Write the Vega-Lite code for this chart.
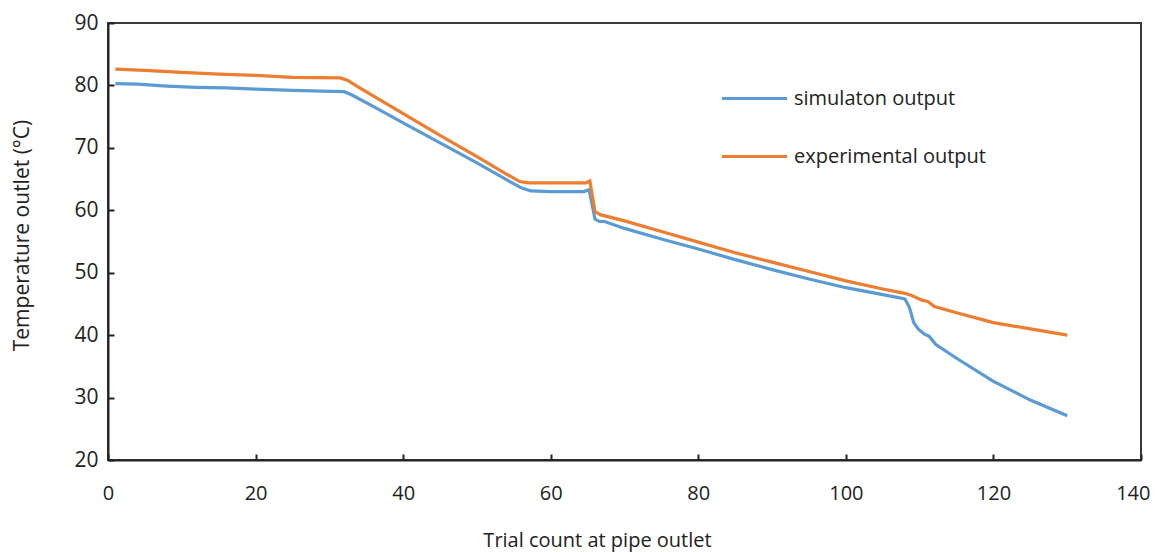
{
  "$schema": "https://vega.github.io/schema/vega-lite/v6.json",
  "width": 1033,
  "height": 437,
  "autosize": {"type": "none"},
  "padding": {"left": 108, "top": 23, "right": 16, "bottom": 92},
  "background": "white",
  "config": {
    "font": "Open Sans",
    "view": {"stroke": "#3a3a3a", "strokeWidth": 2}
  },
  "data": {
    "values": [
      {"x": 1, "y": 80.3, "series": "simulaton output"},
      {"x": 4, "y": 80.2, "series": "simulaton output"},
      {"x": 8, "y": 79.9, "series": "simulaton output"},
      {"x": 12, "y": 79.7, "series": "simulaton output"},
      {"x": 16, "y": 79.6, "series": "simulaton output"},
      {"x": 20, "y": 79.4, "series": "simulaton output"},
      {"x": 25, "y": 79.2, "series": "simulaton output"},
      {"x": 29, "y": 79.1, "series": "simulaton output"},
      {"x": 32, "y": 79.0, "series": "simulaton output"},
      {"x": 33, "y": 78.5, "series": "simulaton output"},
      {"x": 36, "y": 76.6, "series": "simulaton output"},
      {"x": 40, "y": 74.0, "series": "simulaton output"},
      {"x": 45, "y": 70.8, "series": "simulaton output"},
      {"x": 50, "y": 67.6, "series": "simulaton output"},
      {"x": 54, "y": 64.9, "series": "simulaton output"},
      {"x": 56, "y": 63.6, "series": "simulaton output"},
      {"x": 57.3, "y": 63.1, "series": "simulaton output"},
      {"x": 60, "y": 63.0, "series": "simulaton output"},
      {"x": 64.5, "y": 63.0, "series": "simulaton output"},
      {"x": 65.2, "y": 63.3, "series": "simulaton output"},
      {"x": 66, "y": 58.6, "series": "simulaton output"},
      {"x": 66.6, "y": 58.2, "series": "simulaton output"},
      {"x": 67.3, "y": 58.2, "series": "simulaton output"},
      {"x": 70, "y": 57.1, "series": "simulaton output"},
      {"x": 75, "y": 55.4, "series": "simulaton output"},
      {"x": 80, "y": 53.8, "series": "simulaton output"},
      {"x": 85, "y": 52.1, "series": "simulaton output"},
      {"x": 90, "y": 50.5, "series": "simulaton output"},
      {"x": 95, "y": 49.0, "series": "simulaton output"},
      {"x": 100, "y": 47.6, "series": "simulaton output"},
      {"x": 105, "y": 46.5, "series": "simulaton output"},
      {"x": 108, "y": 45.8, "series": "simulaton output"},
      {"x": 108.6, "y": 44.5, "series": "simulaton output"},
      {"x": 109.2, "y": 42.0, "series": "simulaton output"},
      {"x": 109.8, "y": 41.0, "series": "simulaton output"},
      {"x": 110.6, "y": 40.2, "series": "simulaton output"},
      {"x": 111.3, "y": 39.8, "series": "simulaton output"},
      {"x": 112.2, "y": 38.5, "series": "simulaton output"},
      {"x": 115, "y": 36.3, "series": "simulaton output"},
      {"x": 120, "y": 32.6, "series": "simulaton output"},
      {"x": 125, "y": 29.6, "series": "simulaton output"},
      {"x": 130, "y": 27.1, "series": "simulaton output"},
      {"x": 1, "y": 82.6, "series": "experimental output"},
      {"x": 5, "y": 82.4, "series": "experimental output"},
      {"x": 10, "y": 82.1, "series": "experimental output"},
      {"x": 15, "y": 81.8, "series": "experimental output"},
      {"x": 20, "y": 81.6, "series": "experimental output"},
      {"x": 25, "y": 81.3, "series": "experimental output"},
      {"x": 31.5, "y": 81.2, "series": "experimental output"},
      {"x": 32.5, "y": 80.8, "series": "experimental output"},
      {"x": 34, "y": 79.7, "series": "experimental output"},
      {"x": 40, "y": 75.5, "series": "experimental output"},
      {"x": 45, "y": 72.0, "series": "experimental output"},
      {"x": 50, "y": 68.6, "series": "experimental output"},
      {"x": 54, "y": 65.8, "series": "experimental output"},
      {"x": 55.8, "y": 64.6, "series": "experimental output"},
      {"x": 57, "y": 64.4, "series": "experimental output"},
      {"x": 64.8, "y": 64.4, "series": "experimental output"},
      {"x": 65.3, "y": 64.7, "series": "experimental output"},
      {"x": 66, "y": 59.8, "series": "experimental output"},
      {"x": 66.7, "y": 59.3, "series": "experimental output"},
      {"x": 70, "y": 58.3, "series": "experimental output"},
      {"x": 75, "y": 56.6, "series": "experimental output"},
      {"x": 80, "y": 54.9, "series": "experimental output"},
      {"x": 85, "y": 53.2, "series": "experimental output"},
      {"x": 90, "y": 51.7, "series": "experimental output"},
      {"x": 95, "y": 50.2, "series": "experimental output"},
      {"x": 100, "y": 48.7, "series": "experimental output"},
      {"x": 105, "y": 47.4, "series": "experimental output"},
      {"x": 108, "y": 46.7, "series": "experimental output"},
      {"x": 109, "y": 46.3, "series": "experimental output"},
      {"x": 110.3, "y": 45.6, "series": "experimental output"},
      {"x": 111.1, "y": 45.4, "series": "experimental output"},
      {"x": 112, "y": 44.6, "series": "experimental output"},
      {"x": 115, "y": 43.6, "series": "experimental output"},
      {"x": 120, "y": 42.0, "series": "experimental output"},
      {"x": 125, "y": 41.0, "series": "experimental output"},
      {"x": 130, "y": 40.0, "series": "experimental output"}
    ]
  },
  "mark": {"type": "line", "strokeWidth": 3.2, "interpolate": "linear"},
  "encoding": {
    "x": {
      "field": "x",
      "type": "quantitative",
      "scale": {"domain": [0, 140], "nice": false, "zero": false},
      "axis": {
        "title": "Trial count at pipe outlet",
        "values": [0, 20, 40, 60, 80, 100, 120, 140],
        "grid": false,
        "domainColor": "#222",
        "domainWidth": 2,
        "tickColor": "#222",
        "tickWidth": 2,
        "tickSize": -6,
        "labelPadding": 29,
        "labelFontSize": 20,
        "labelColor": "#222",
        "labelFont": "Open Sans",
        "labelFlush": false,
        "labelAlign": {"condition": {"test": "datum.value >= 140", "value": "right"}, "value": "center"},
        "labelOffset": {"condition": {"test": "datum.value >= 140", "value": 9}, "value": 0},
        "titleFontSize": 20,
        "titleFontWeight": "normal",
        "titleColor": "#222",
        "titleFont": "Open Sans",
        "titleX": 489,
        "titleY": 80,
        "titleAnchor": "middle",
        "titleBaseline": "middle"
      }
    },
    "y": {
      "field": "y",
      "type": "quantitative",
      "scale": {"domain": [20, 90], "nice": false, "zero": false},
      "axis": {
        "title": "Temperature outlet (°C)",
        "values": [20, 30, 40, 50, 60, 70, 80, 90],
        "grid": false,
        "domainColor": "#222",
        "domainWidth": 2,
        "tickColor": "#222",
        "tickWidth": 2,
        "tickSize": -6,
        "labelPadding": 16,
        "labelFontSize": 21,
        "labelColor": "#222",
        "labelFont": "Open Sans",
        "labelFlush": false,
        "titleFontSize": 21,
        "titleFontWeight": "normal",
        "titleColor": "#222",
        "titleFont": "Open Sans",
        "titleAngle": -90,
        "titleX": -86,
        "titleY": 212,
        "titleAnchor": "middle",
        "titleBaseline": "middle"
      }
    },
    "color": {
      "field": "series",
      "type": "nominal",
      "sort": ["simulaton output", "experimental output"],
      "scale": {"domain": ["simulaton output", "experimental output"], "range": ["#5B9BD5", "#ED7D31"]},
      "legend": {
        "title": null,
        "orient": "none",
        "legendX": 612,
        "legendY": 41,
        "symbolType": "stroke",
        "symbolSize": 4225,
        "symbolStrokeWidth": 3.2,
        "labelFontSize": 20,
        "labelFont": "Open Sans",
        "labelColor": "#222",
        "labelOffset": 5,
        "rowPadding": 13,
        "labelLimit": 400
      }
    }
  }
}
